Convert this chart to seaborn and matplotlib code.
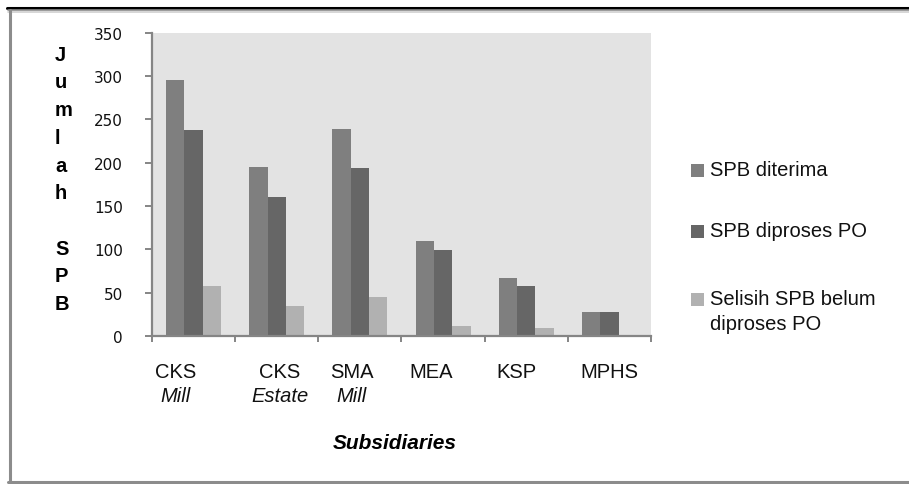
import matplotlib
matplotlib.use("Agg")
import matplotlib.pyplot as plt
from matplotlib.lines import Line2D
from matplotlib.patches import Rectangle
import seaborn as sns
import pandas as pd

# ---- data -------------------------------------------------------------
subsidiaries = ["CKS Mill", "CKS Estate", "SMA Mill", "MEA", "KSP", "MPHS"]
label_main = ["CKS", "CKS", "SMA", "MEA", "KSP", "MPHS"]
label_sub = ["Mill", "Estate", "Mill", "", "", ""]
series_names = ["SPB diterima", "SPB diproses PO", "Selisih SPB belum\ndiproses PO"]
spb_diterima = [295, 195, 239, 110, 67, 28]
spb_diproses = [237, 160, 194, 99, 58, 28]
spb_selisih = [58, 35, 45, 11, 9, 0]
y_ticks = [0, 50, 100, 150, 200, 250, 300, 350]
y_label = "Jumlah SPB"
x_label = "Subsidiaries"

# ---- style ------------------------------------------------------------
colors = ["#7f7f7f", "#666666", "#b1b1b1"]
axis_grey = "#858585"
W, H = 909, 485

sns.set_theme(style="white")
plt.rcParams["font.family"] = ["Liberation Sans", "DejaVu Sans"]


def fx(px):
    return px / W


def fy(py):
    return 1 - py / H


df = pd.DataFrame({
    "subsidiary": subsidiaries * len(series_names),
    "series": [s for s in series_names for _ in subsidiaries],
    "jumlah": spb_diterima + spb_diproses + spb_selisih,
})

fig = plt.figure(figsize=(W / 100, H / 100), dpi=100)
fig.patch.set_facecolor("white")
ax = fig.add_axes([fx(152), fy(337), fx(651) - fx(152), fy(33.5) - fy(337)])

sns.barplot(
    data=df, x="subsidiary", y="jumlah", hue="series",
    order=subsidiaries, hue_order=series_names, palette=colors,
    saturation=1, width=0.66, gap=0, linewidth=0, errorbar=None,
    legend=False, ax=ax,
)

ax.set_facecolor("#e3e3e3")
ax.set_xlim(-0.5, len(subsidiaries) - 0.5)
ax.set_ylim(y_ticks[0], y_ticks[-1])
ax.set_xlabel("")
ax.set_ylabel("")

# spines
for side in ("top", "right"):
    ax.spines[side].set_visible(False)
for side in ("left", "bottom"):
    ax.spines[side].set_color(axis_grey)
    ax.spines[side].set_linewidth(1.6)

# y axis ticks
ax.set_yticks(y_ticks)
ax.set_yticklabels([str(v) for v in y_ticks], fontsize=11, family="DejaVu Sans")
ax.tick_params(axis="y", left=True, direction="out", length=5, width=1.4,
               color=axis_grey, pad=16, labelcolor="#111111")

# x axis: category separators as minor ticks, labels drawn below
ax.set_xticks(range(len(subsidiaries)))
ax.set_xticklabels([])
ax.tick_params(axis="x", which="major", bottom=False, length=0)
ax.set_xticks([i - 0.5 for i in range(len(subsidiaries) + 1)], minor=True)
ax.tick_params(axis="x", which="minor", bottom=True, direction="out",
               length=4, width=1.4, color=axis_grey)

label_nudge = [-18, 3, -8, -12, -10, 0]
for i, (main, sub, dx) in enumerate(zip(label_main, label_sub, label_nudge)):
    ax.annotate(main, xy=(i, 0), xycoords=("data", "axes fraction"),
                xytext=(dx, -41.5), textcoords="offset pixels",
                ha="center", va="baseline", fontsize=14.5, color="#111111")
    if sub:
        ax.annotate(sub, xy=(i, 0), xycoords=("data", "axes fraction"),
                    xytext=(dx, -65), textcoords="offset pixels",
                    ha="center", va="baseline", fontsize=14.5,
                    fontstyle="italic", color="#111111")

# stacked vertical axis title
for k, ch in enumerate(y_label):
    if ch.strip():
        fig.text(fx(55), fy(60.7 + 27.7 * k), ch, ha="left", va="baseline",
                 fontsize=14.5, fontweight="bold", color="black")

fig.text(fx(395), fy(449), x_label, ha="center", va="baseline",
         fontsize=15, fontweight="bold", fontstyle="italic", color="black")

# legend
legend_baselines = [176, 237, 305]
for name, color, base in zip(series_names, colors, legend_baselines):
    fig.add_artist(Rectangle((fx(691), fy(base + 1.5)), 13 / W, 12.5 / H,
                             facecolor=color, edgecolor="none",
                             transform=fig.transFigure))
    for j, line in enumerate(name.split("\n")):
        fig.text(fx(710), fy(base + 25 * j), line, ha="left", va="baseline",
                 fontsize=14.5, color="#111111")

# chart frame
fig.add_artist(Line2D([fx(7), 1], [fy(8.5)] * 2, color="black", lw=2.2,
                      transform=fig.transFigure))
fig.add_artist(Line2D([fx(8), 1], [fy(11)] * 2, color="#8a8a8a", lw=1.2,
                      transform=fig.transFigure))
fig.add_artist(Line2D([fx(8), 1], [fy(13)] * 2, color="#cfcfcf", lw=1.2,
                      transform=fig.transFigure))
fig.add_artist(Line2D([fx(9.5)] * 2, [fy(11), fy(483.5)], color="#8c8c8c",
                      lw=2.2, transform=fig.transFigure))
fig.add_artist(Line2D([fx(8), 1], [fy(483.3)] * 2, color="#8c8c8c", lw=2.2,
                      transform=fig.transFigure))

fig.savefig("out.png", dpi=100)
